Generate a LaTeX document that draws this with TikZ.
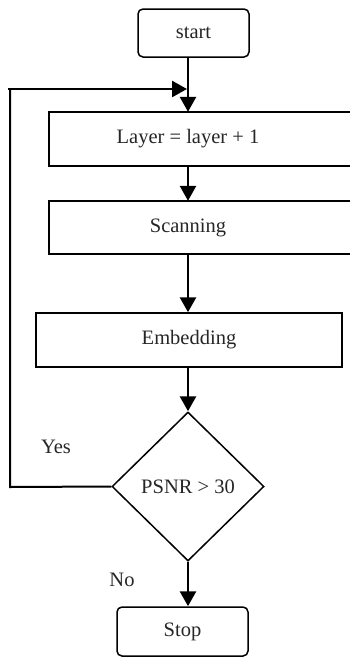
\documentclass[tikz,border=0pt]{standalone}
\usepackage{fontspec}
\setmainfont{Liberation Serif}
\usetikzlibrary{shapes.geometric,arrows.meta}
\begin{document}
\begin{tikzpicture}[x=1pt,y=-1pt,
  every node/.style={font=\fontsize{20.5}{24}\selectfont, inner sep=0pt, text=black!85},
  termbox/.style={draw, line width=1.5pt, rounded corners=5pt},
  procarea/.style={minimum height=54pt},
  boxline/.style={draw, line width=1.5pt},
  flow/.style={line width=2.8pt, -{Triangle[length=15pt,width=16pt]}},
  loopline/.style={line width=2pt},
  decision/.style={draw, diamond, line width=1.5pt, minimum width=152pt, minimum height=149pt}]
\useasboundingbox (0,0) rectangle (350,657);
\clip (0,0) rectangle (350,657);
% nodes
\node[termbox, minimum width=111pt, minimum height=48pt] (start) at (193.5,33) {start};
\node[procarea, minimum width=278pt] (layer) at (188,139) {Layer = layer + 1};
\draw[boxline] (layer.north west) rectangle ([xshift=40pt]layer.south east);
\node[procarea, minimum width=278pt, minimum height=53pt] (scan) at (188,227.5) {Scanning};
\draw[boxline] (scan.north west) rectangle ([xshift=40pt]scan.south east);
\node[boxline, minimum width=306pt, minimum height=54pt] (embed) at (189,340) {Embedding};
\node[decision] (dec) at (188,486.5) {PSNR > 30};
\node[termbox, minimum width=131pt, minimum height=49pt] (stop) at (182.5,631.5) {Stop};
\node (yes) at (56,447) {Yes};
\node (no) at (122,580) {No};
% coordinates
\coordinate (join) at (188,89);
\coordinate (lb) at (10,487);
\coordinate (lt) at (10,89);
% connectors
\draw[flow] (start.south -| join) -- (layer.north);
\draw[flow] (layer.south) -- (scan.north);
\draw[flow] (scan.south) -- (embed.north -| scan.south);
\draw[flow] (embed.south -| dec.north) -- (dec.north);
\draw[flow] (dec.south) -- (stop.north -| dec.south);
\draw[loopline] (dec.west) -- (lb) -- ([yshift=1pt]lt);
\draw[flow, line width=2.5pt] ([xshift=-2pt]lt) -- ([xshift=-1pt]join);
\end{tikzpicture}
\end{document}
